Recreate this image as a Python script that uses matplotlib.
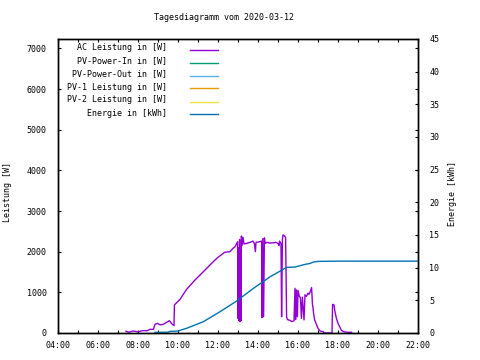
import matplotlib
matplotlib.use("Agg")
import matplotlib.pyplot as plt
from matplotlib.ticker import FixedLocator, FuncFormatter

plt.rcParams["font.family"] = ["DejaVu Sans Mono"]
plt.rcParams["font.size"] = 6

# AC Leistung in [W] (Stunde, Watt)
ac_hour = [7.40, 7.55, 7.75, 8.00, 8.25, 8.45, 8.60, 8.77, 8.85, 8.97, 9.10, 9.27,
           9.43, 9.57, 9.68, 9.80, 9.82, 9.90, 10.10, 10.43, 10.85, 11.27, 11.68,
           11.85, 12.00, 12.33, 12.60, 12.75, 12.85, 12.98, 13.00, 13.02, 13.05,
           13.08, 13.10, 13.13, 13.15, 13.17, 13.20, 13.25, 13.30, 13.40, 13.55,
           13.65, 13.75, 13.82, 13.87, 13.90, 14.05, 14.18, 14.20, 14.24, 14.28,
           14.32, 14.36, 14.45, 14.60, 14.80, 14.90, 15.00, 15.05, 15.08, 15.15,
           15.18, 15.22, 15.25, 15.30, 15.38, 15.43, 15.47, 15.60, 15.70, 15.80,
           15.85, 15.88, 15.92, 15.97, 16.00, 16.07, 16.12, 16.17, 16.22, 16.30,
           16.35, 16.42, 16.50, 16.55, 16.60, 16.68, 16.72, 16.75, 16.78, 16.83,
           16.93, 17.00, 17.10, 17.27, 17.30, 17.70, 17.73, 17.80, 17.85, 17.92,
           18.00, 18.08, 18.17, 18.25, 18.35, 18.50, 18.68]
ac_watt = [42, 20, 50, 30, 60, 55, 90, 90, 213, 238, 200, 215,
           262, 303, 230, 180, 689, 730, 828, 1074, 1303, 1508, 1713,
           1795, 1860, 1984, 2000, 2083, 2120, 2245, 360, 2100, 300,
           2300, 280, 2050, 300, 2385, 2150, 2354, 2190, 2200, 2220,
           2240, 2260, 2200, 2000, 2230, 2240, 2260, 380, 2320, 400,
           2340, 2200, 2230, 2210, 2220, 2230, 2200, 2150, 2260, 2200,
           400, 2300, 2410, 2400, 2350, 400, 330, 310, 280, 300,
           1099, 330, 1059, 400, 1050, 893, 880, 360, 880, 320,
           940, 900, 980, 950, 1000, 1115, 720, 620, 484, 320,
           200, 115, 50, 33, 0, 0, 705, 690, 525, 360,
           238, 156, 66, 40, 25, 17, 17]

# Energie in [kWh]
en_hour = [8.85, 9.50, 9.60, 10.00, 10.43, 11.27, 12.10, 12.93, 13.77, 14.60,
           15.43, 15.85, 16.10, 16.35, 16.60, 16.77, 17.00, 18.00, 22.00]
en_kwh = [0.10, 0.12, 0.25, 0.30, 0.72, 1.73, 3.26, 4.89, 6.83, 8.60,
          10.04, 10.10, 10.30, 10.50, 10.65, 10.86, 10.96, 11.00, 11.00]

legend_labels = ["AC Leistung in [W]", "PV-Power-In in [W]", "PV-Power-Out in [W]",
                 "PV-1 Leistung in [W]", "PV-2 Leistung in [W]", "Energie in [kWh]"]
legend_colors = ["#9400d3", "#009e73", "#56b4e9", "#e69f00", "#f0e442", "#0072b2"]

fig = plt.figure(figsize=(4.8, 3.6), dpi=100)
ax = fig.add_axes([58 / 480, 1 - 333 / 360, 360 / 480, 294 / 360])
ax2 = ax.twinx()

ax.plot(ac_hour, ac_watt, color=legend_colors[0], lw=1.0)
ax2.plot(en_hour, en_kwh, color=legend_colors[5], lw=1.0)

ax.set_xlim(4, 22)
ax.set_ylim(0, 7230)
ax2.set_ylim(0, 45)

ax.xaxis.set_major_locator(FixedLocator(range(4, 23, 2)))
ax.xaxis.set_minor_locator(FixedLocator(range(5, 22, 2)))
ax.xaxis.set_major_formatter(FuncFormatter(lambda v, p: f"{int(v):02d}:00"))
ax.yaxis.set_major_locator(FixedLocator(range(0, 7001, 1000)))
ax2.yaxis.set_major_locator(FixedLocator(range(0, 46, 5)))

ax.tick_params(which="both", direction="in", top=True, right=True, length=2.5,
               width=0.8, pad=8)
ax.tick_params(axis="x", pad=5.5)
ax2.tick_params(direction="in", length=2.5, width=0.8, pad=8)
for a in (ax, ax2):
    for s in a.spines.values():
        s.set_linewidth(1.0)

ax.set_ylabel("Leistung [W]")
ax.yaxis.set_label_coords((12.5 - 58) / 360, (333 - 192) / 294)
ax2.set_ylabel("Energie [kWh]")
ax2.yaxis.set_label_coords((448 - 58) / 360, (333 - 193) / 294)
fig.text(223.5 / 480, 1 - 18 / 360, "Tagesdiagramm vom 2020-03-12",
         ha="center", va="center")

# Legende wie bei gnuplot: Text rechtsbuendig, Linie rechts daneben
for i, (lab, col) in enumerate(zip(legend_labels, legend_colors)):
    yc = (333 - (48 + 13 * i)) / 294
    ax.text(0.303, yc, lab, transform=ax.transAxes, ha="right", va="center")
    ax.plot([0.367, 0.444], [yc - 1.5 / 294] * 2, transform=ax.transAxes,
            color=col, lw=1.0, clip_on=False)

fig.savefig("out.png", dpi=100)
